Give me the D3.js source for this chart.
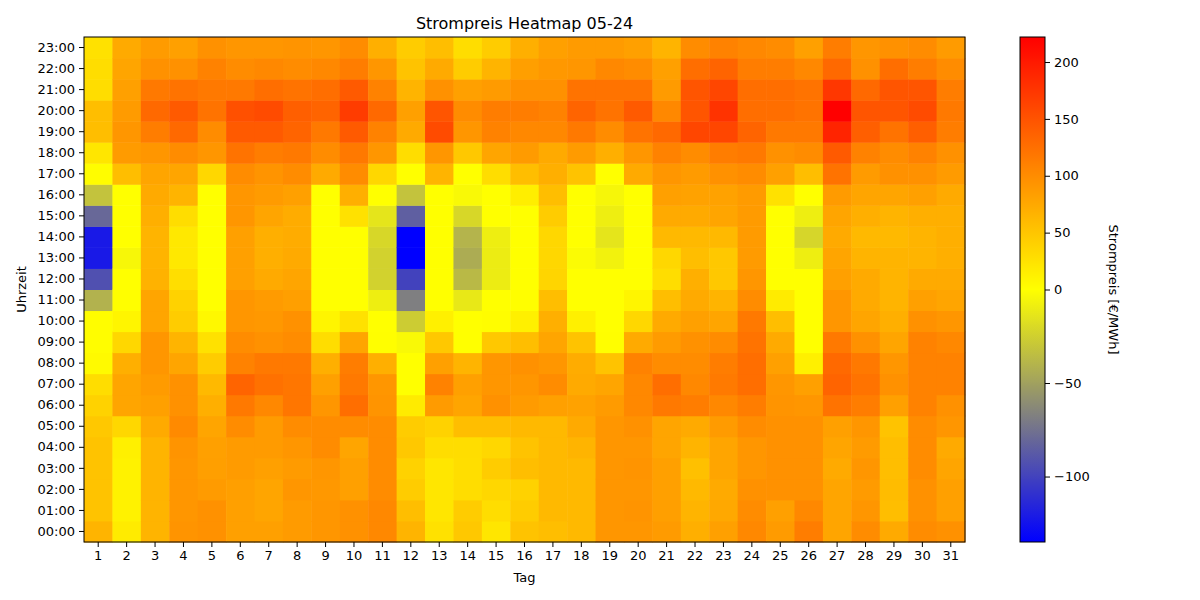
<!doctype html>
<html>
<head>
<meta charset="utf-8">
<script src="https://cdnjs.cloudflare.com/ajax/libs/d3/7.8.5/d3.min.js"></script>
<style>
  body { margin: 0; background: #fff; }
  svg text { font-family: "DejaVu Sans", sans-serif; fill: #000; }
</style>
</head>
<body>
<svg id="chart" width="1200" height="600"></svg>
<script>
// Tage im Mai 2024
const days = d3.range(1, 32);
// Stunden 0..23
const hours = d3.range(0, 24).map(h => (h < 10 ? "0" : "") + h + ":00");
const cbTicks = [-100, -50, 0, 50, 100, 150, 200];

// Strompreis je Tag, Stunde 00:00 bis 23:00 (€/MWh)
const day01 = [65, 52, 52, 52, 52, 48, 39, 30, 4, 2, 2, -41, -93, -122, -122, -80, -32, 2, 22, 57, 57, 30, 30, 26];
const day02 = [17, 11, 11, 11, 13, 35, 78, 78, 70, 35, 9, 1, 0, -4, 0, 0, 0, 57, 87, 91, 87, 83, 78, 74];
const day03 = [65, 65, 65, 65, 65, 74, 83, 87, 91, 91, 78, 78, 67, 65, 65, 70, 74, 78, 91, 113, 131, 117, 96, 87];
const day04 = [93, 91, 91, 91, 93, 102, 96, 96, 78, 65, 44, 39, 29, 20, 20, 30, 65, 78, 100, 131, 144, 122, 96, 83];
const day05 = [96, 96, 87, 84, 83, 78, 70, 61, 44, 26, 6, 0, 0, 0, 0, 0, 0, 35, 91, 100, 122, 117, 109, 96];
const day06 = [83, 83, 84, 87, 87, 100, 117, 135, 109, 100, 91, 91, 83, 83, 83, 91, 91, 100, 122, 144, 152, 117, 100, 91];
const day07 = [83, 78, 78, 83, 87, 87, 104, 124, 117, 96, 90, 87, 74, 70, 70, 78, 87, 93, 113, 144, 157, 126, 104, 91];
const day08 = [87, 87, 91, 87, 91, 100, 119, 119, 117, 100, 96, 84, 78, 74, 72, 72, 83, 100, 117, 135, 139, 122, 100, 93];
const day09 = [91, 91, 90, 91, 100, 100, 91, 83, 70, 30, 9, 0, 0, 0, 0, 0, 0, 74, 100, 117, 135, 126, 104, 91];
const day10 = [96, 96, 83, 83, 78, 100, 126, 117, 113, 78, 26, 0, 0, 0, 0, 26, 70, 100, 117, 144, 170, 144, 113, 100];
const day11 = [104, 104, 100, 100, 100, 100, 93, 91, 70, 1, 0, -9, -24, -24, -21, -14, 0, 35, 91, 109, 131, 109, 91, 70];
const day12 = [65, 57, 44, 39, 48, 44, 17, 0, 0, -3, -27, -68, -100, -135, -135, -85, -32, 0, 30, 74, 83, 65, 52, 44];
const day13 = [26, 22, 22, 22, 30, 39, 87, 109, 83, 48, 13, 0, 0, 0, 0, 0, 0, 65, 91, 157, 148, 96, 74, 57];
const day14 = [48, 44, 30, 29, 30, 57, 78, 83, 65, 0, 0, -12, -37, -44, -40, -21, -3, 0, 48, 91, 100, 83, 44, 30];
const day15 = [22, 30, 35, 44, 35, 57, 96, 91, 91, 48, 2, 0, -10, -10, -9, 0, 0, 30, 78, 109, 113, 87, 65, 44];
const day16 = [52, 44, 39, 57, 52, 61, 87, 91, 96, 57, 13, 1, 0, 0, 0, 0, 15, 57, 87, 104, 113, 96, 84, 70];
const day17 = [57, 61, 61, 61, 61, 61, 83, 100, 91, 78, 70, 57, 37, 35, 35, 44, 57, 70, 74, 104, 109, 96, 90, 83];
const day18 = [61, 61, 61, 61, 65, 74, 81, 74, 72, 52, 13, 0, 0, -2, 0, 0, 0, 52, 87, 117, 135, 122, 91, 87];
const day19 = [91, 91, 91, 91, 91, 91, 87, 78, 52, 1, 0, 0, 0, -7, -14, -9, -5, 0, 70, 100, 122, 122, 104, 87];
const day20 = [91, 93, 91, 93, 91, 96, 104, 104, 109, 74, 35, 9, 0, 0, 0, 0, 0, 74, 91, 122, 144, 122, 100, 83];
const day21 = [87, 84, 83, 83, 78, 78, 117, 126, 100, 87, 74, 57, 30, 35, 61, 74, 83, 91, 109, 131, 104, 87, 83, 65];
const day22 = [70, 65, 61, 55, 65, 74, 113, 104, 100, 96, 83, 74, 70, 57, 61, 74, 81, 87, 100, 161, 148, 148, 126, 100];
const day23 = [83, 76, 74, 78, 78, 87, 104, 116, 113, 100, 78, 65, 48, 48, 61, 78, 81, 96, 113, 161, 178, 161, 135, 109];
const day24 = [104, 100, 96, 91, 91, 100, 113, 126, 126, 122, 117, 100, 91, 87, 87, 87, 87, 100, 117, 135, 126, 126, 113, 104];
const day25 = [87, 83, 96, 96, 96, 96, 93, 91, 83, 74, 57, 17, 0, 0, 0, 0, 26, 83, 96, 117, 126, 126, 113, 100];
const day26 = [113, 104, 96, 96, 96, 96, 91, 83, 13, 0, 0, 0, 0, -9, -22, -9, 0, 57, 100, 117, 122, 122, 104, 83];
const day27 = [78, 78, 78, 74, 78, 83, 122, 135, 131, 117, 91, 91, 83, 78, 74, 78, 87, 122, 144, 191, 222, 174, 131, 113];
const day28 = [100, 91, 87, 91, 87, 91, 113, 122, 117, 96, 78, 74, 74, 65, 61, 70, 78, 87, 109, 139, 148, 131, 96, 91];
const day29 = [74, 57, 58, 57, 57, 52, 83, 96, 91, 78, 70, 65, 65, 65, 61, 65, 78, 96, 100, 122, 148, 148, 126, 96];
const day30 = [100, 96, 96, 100, 100, 100, 109, 109, 109, 109, 96, 83, 74, 65, 65, 70, 83, 96, 109, 139, 157, 148, 113, 100];
const day31 = [96, 83, 83, 78, 74, 91, 96, 109, 109, 104, 91, 78, 74, 70, 70, 70, 74, 87, 96, 113, 117, 113, 100, 87];

const prices = [day01, day02, day03, day04, day05, day06, day07, day08, day09, day10,
  day11, day12, day13, day14, day15, day16, day17, day18, day19, day20,
  day21, day22, day23, day24, day25, day26, day27, day28, day29, day30, day31];

const cells = [];
prices.forEach((col, i) => {
  col.forEach((v, h) => cells.push({ day: days[i], hour: hours[h], value: v }));
});

const vmin = d3.min(cells, d => d.value);
const vmax = d3.max(cells, d => d.value);

const svg = d3.select("#chart");
const mLeft = 84, mRight = 965, mTop = 37, mBottom = 542;

const x = d3.scaleBand().domain(days).range([mLeft, mRight]);
const y = d3.scaleBand().domain(hours.slice().reverse()).range([mTop, mBottom]);

// blau - grau - gelb (0) - rot
const color = d3.scaleLinear()
  .domain([vmin, vmin / 2, 0, vmax])
  .range(["#0000ff", "#808080", "#ffff00", "#ff0000"])
  .interpolate(d3.interpolateRgb);

svg.append("g")
  .selectAll("rect")
  .data(cells)
  .enter()
  .append("rect")
    .attr("x", d => x(d.day))
    .attr("y", d => y(d.hour))
    .attr("width", x.bandwidth() + 0.5)
    .attr("height", y.bandwidth() + 0.5)
    .attr("fill", d => color(d.value));

svg.append("rect")
  .attr("x", mLeft).attr("y", mTop)
  .attr("width", mRight - mLeft).attr("height", mBottom - mTop)
  .attr("fill", "none").attr("stroke", "#000").attr("stroke-width", 1);

const xAxis = svg.append("g")
  .attr("transform", `translate(0,${mBottom})`)
  .call(d3.axisBottom(x).tickSize(5).tickPadding(4));
const yAxis = svg.append("g")
  .attr("transform", `translate(${mLeft},0)`)
  .call(d3.axisLeft(y).tickSize(5).tickPadding(4));
[xAxis, yAxis].forEach(a => {
  a.select(".domain").remove();
  a.selectAll("text").style("font-size", "13px").style("font-family", "DejaVu Sans");
  a.selectAll("line").attr("stroke", "#000");
});

svg.append("text")
  .attr("x", (mLeft + mRight) / 2).attr("y", 29)
  .attr("text-anchor", "middle")
  .style("font-size", "16px")
  .text("Strompreis Heatmap 05-24");

svg.append("text")
  .attr("x", (mLeft + mRight) / 2).attr("y", 582)
  .attr("text-anchor", "middle")
  .style("font-size", "13px")
  .text("Tag");

svg.append("text")
  .attr("transform", `translate(26,${(mTop + mBottom) / 2}) rotate(-90)`)
  .attr("text-anchor", "middle")
  .style("font-size", "13px")
  .text("Uhrzeit");

// Farbskala
const cbLeft = 1020, cbWidth = 25;
const cbScale = d3.scaleLinear().domain([vmin, 0, vmax]).range([mBottom, (mTop + mBottom) / 2, mTop]);

const defs = svg.append("defs");
const grad = defs.append("linearGradient")
  .attr("id", "cbgrad")
  .attr("x1", 0).attr("y1", 1).attr("x2", 0).attr("y2", 0);
d3.range(0, 101).forEach(p => {
  const v = cbScale.invert(mBottom - (mBottom - mTop) * p / 100);
  grad.append("stop").attr("offset", p + "%").attr("stop-color", color(v));
});

svg.append("rect")
  .attr("x", cbLeft).attr("y", mTop)
  .attr("width", cbWidth).attr("height", mBottom - mTop)
  .attr("fill", "url(#cbgrad)")
  .attr("stroke", "#000").attr("stroke-width", 1);

const cbAxis = svg.append("g")
  .attr("transform", `translate(${cbLeft + cbWidth},0)`)
  .call(d3.axisRight(cbScale).tickValues(cbTicks).tickSize(5).tickPadding(4)
    .tickFormat(d => d < 0 ? "\u2212" + Math.abs(d) : d));
cbAxis.select(".domain").remove();
cbAxis.selectAll("text").style("font-size", "13px").style("font-family", "DejaVu Sans");

svg.append("text")
  .attr("transform", `translate(1109,${(mTop + mBottom) / 2}) rotate(90)`)
  .attr("text-anchor", "middle")
  .style("font-size", "13px")
  .text("Strompreis [€/MWh]");
</script>
</body>
</html>
